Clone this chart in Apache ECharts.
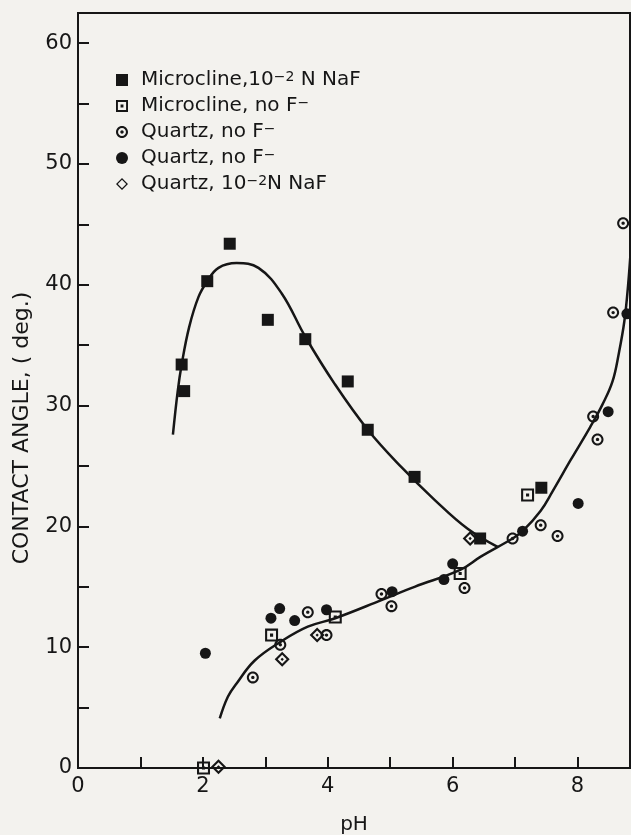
<!DOCTYPE html>
<html>
<head>
<meta charset="utf-8">
<script src="https://cdn.jsdelivr.net/npm/echarts@6/dist/echarts.min.js"></script>
<style>
  html, body { margin: 0; padding: 0; background: #f3f2ee; }
  #chart { width: 631px; height: 835px; }
</style>
</head>
<body>
<div id="chart"></div>
<script>
// ---- data (pH, contact angle in degrees) ----
const microclineNaF = [[1.66,33.4],[1.70,31.2],[2.07,40.3],[2.43,43.4],[3.04,37.1],[3.64,35.5],[4.32,32.0],[4.64,28.0],[5.39,24.1],[6.44,19.0],[7.42,23.2]];
const microclineNoF = [[2.01,0],[3.10,11.0],[4.12,12.5],[6.12,16.1],[7.20,22.6]];
const quartzNoFOpen = [[2.80,7.5],[3.24,10.2],[3.68,12.9],[3.98,11.0],[4.86,14.4],[5.02,13.4],[6.19,14.9],[6.96,19.0],[7.41,20.1],[7.68,19.2],[8.25,29.1],[8.32,27.2],[8.57,37.7],[8.73,45.1]];
const quartzNoFFilled = [[2.04,9.5],[3.09,12.4],[3.23,13.2],[3.47,12.2],[3.98,13.1],[5.03,14.6],[5.86,15.6],[6.00,16.9],[7.12,19.6],[8.01,21.9],[8.49,29.5],[8.79,37.6]];
const quartzNaF = [[2.25,0.1],[3.27,9.0],[3.83,11.0],[6.28,19.0]];

const microclineCurve = [[1.52,27.6],[1.597,31.2],[1.66,33.4],[1.78,36.5],[1.93,39.0],[2.07,40.3],[2.25,41.4],[2.54,41.8],[2.89,41.4],[3.26,39.3],[3.64,35.7],[4.11,31.8],[4.64,28.0],[5.18,24.9],[5.71,22.2],[6.24,19.8],[6.72,18.3]];
const quartzCurve = [[2.27,4.1],[2.40,5.9],[2.54,7.0],[2.83,8.9],[3.26,10.5],[3.68,11.7],[4.12,12.4],[4.86,13.9],[5.39,15.0],[6.12,16.4],[6.45,17.5],[6.96,19.0],[7.12,19.6],[7.41,21.3],[7.60,22.9],[7.89,25.5],[8.20,28.2],[8.40,30.1],[8.56,32.0],[8.66,34.3],[8.75,37.0],[8.81,40.0],[8.86,43.5]];

const legendLabels = {
  mcNaF: 'Microcline,10{sup|−2} N NaF',
  mcNoF: 'Microcline, no F{sup|−}',
  qzOpen: 'Quartz, no F{sup|−}',
  qzFilled: 'Quartz, no F{sup|−}',
  qzNaF: 'Quartz, 10{sup|−2}N NaF'
};
const xTickLabels = [0, 2, 4, 6, 8];
const yTickLabels = [0, 10, 20, 30, 40, 50, 60];
const yTitle = 'CONTACT ANGLE, ( deg.)';
const xTitle = 'pH';

// ---- styles ----
const INK = '#161616';
const FONT = 'DejaVu Sans';

function circ(cx, cy, r, cw) {
  const k = 0.5523 * r;
  if (cw) {
    return `M${cx},${cy - r}C${cx + k},${cy - r} ${cx + r},${cy - k} ${cx + r},${cy}` +
      `C${cx + r},${cy + k} ${cx + k},${cy + r} ${cx},${cy + r}` +
      `C${cx - k},${cy + r} ${cx - r},${cy + k} ${cx - r},${cy}` +
      `C${cx - r},${cy - k} ${cx - k},${cy - r} ${cx},${cy - r}Z`;
  }
  return `M${cx},${cy - r}C${cx - k},${cy - r} ${cx - r},${cy - k} ${cx - r},${cy}` +
    `C${cx - r},${cy + k} ${cx - k},${cy + r} ${cx},${cy + r}` +
    `C${cx + k},${cy + r} ${cx + r},${cy + k} ${cx + r},${cy}` +
    `C${cx + r},${cy - k} ${cx + k},${cy - r} ${cx},${cy - r}Z`;
}
const SYM_SQ_DOT = 'path://M0,0L100,0L100,100L0,100Z M16,16L16,84L84,84L84,16Z M38,38L62,38L62,62L38,62Z';
const SYM_CIRC_DOT = 'path://' + circ(50, 50, 50, true) + circ(50, 50, 33, false) + circ(50, 50, 14, true);
const SYM_DIA_DOT = 'path://M50,0L100,50L50,100L0,50Z M50,20L20,50L50,80L80,50Z M50,39L61,50L50,61L39,50Z';
const SYM_DIA = 'path://M50,0L100,50L50,100L0,50Z M50,15L15,50L50,85L85,50Z';

const chart = echarts.init(document.getElementById('chart'), null, { renderer: 'canvas' });

function scatter(name, data, symbol, size) {
  return {
    name, type: 'scatter', data, symbol, symbolSize: size, z: 5,
    itemStyle: { color: INK, opacity: 1 },
    emphasis: { disabled: true }
  };
}
function curve(name, data) {
  return {
    name, type: 'line', data, smooth: 0.4, symbol: 'none', z: 3, clip: true,
    lineStyle: { color: INK, width: 2.5 }, silent: true
  };
}

chart.setOption({
  backgroundColor: '#f3f2ee',
  animation: false,
  grid: {
    left: 78, right: 1, top: 13, bottom: 67,
    show: true, borderColor: INK, borderWidth: 2, backgroundColor: 'transparent',
    containLabel: false, outerBoundsMode: 'none'
  },
  xAxis: {
    type: 'value', min: 0, max: 8.84, interval: 1,
    name: xTitle, nameLocation: 'middle', nameGap: 47,
    nameTextStyle: { fontFamily: FONT, fontSize: 20, color: INK },
    axisLine: { show: true, lineStyle: { color: INK, width: 2 } },
    axisTick: { show: true, inside: true, length: 11, lineStyle: { color: INK, width: 2 } },
    axisLabel: {
      fontFamily: FONT, fontSize: 21, color: INK, margin: 8,
      formatter: v => (xTickLabels.indexOf(v) >= 0 ? String(v) : '')
    },
    splitLine: { show: false }
  },
  yAxis: {
    type: 'value', min: 0, max: 62.5, interval: 5,
    axisLine: { show: true, lineStyle: { color: INK, width: 2 } },
    axisTick: { show: true, inside: true, length: 11, lineStyle: { color: INK, width: 2 } },
    axisLabel: {
      fontFamily: FONT, fontSize: 21, color: INK, margin: 6,
      formatter: v => (yTickLabels.indexOf(v) >= 0 ? String(v) : '')
    },
    splitLine: { show: false }
  },
  legend: {
    orient: 'vertical', left: 111, top: 65,
    itemWidth: 12, itemHeight: 12, itemGap: 6,
    selectedMode: false,
    data: [
      { name: 'mcNaF', icon: 'rect', itemStyle: { color: INK } },
      { name: 'mcNoF', icon: SYM_SQ_DOT },
      { name: 'qzOpen', icon: SYM_CIRC_DOT },
      { name: 'qzFilled', icon: 'circle' },
      { name: 'qzNaF', icon: SYM_DIA }
    ],
    formatter: n => legendLabels[n],
    textStyle: {
      fontFamily: FONT, fontSize: 20, color: INK, lineHeight: 20, padding: [0, 0, 0, 8],
      rich: {
        sup: { fontFamily: FONT, fontSize: 14, color: INK, lineHeight: 14, verticalAlign: 'top' }
      }
    }
  },
  graphic: [{
    type: 'text', x: 22, y: 428, rotation: Math.PI / 2,
    style: { text: yTitle, fontFamily: FONT, fontSize: 22, fill: INK, align: 'center', verticalAlign: 'middle' }
  }],
  series: [
    curve('microclineCurve', microclineCurve),
    curve('quartzCurve', quartzCurve),
    scatter('mcNaF', microclineNaF, 'rect', 12),
    scatter('mcNoF', microclineNoF, SYM_SQ_DOT, 13),
    scatter('qzOpen', quartzNoFOpen, SYM_CIRC_DOT, 12),
    scatter('qzFilled', quartzNoFFilled, 'circle', 11),
    scatter('qzNaF', quartzNaF, SYM_DIA_DOT, 15)
  ]
});
</script>
</body>
</html>
